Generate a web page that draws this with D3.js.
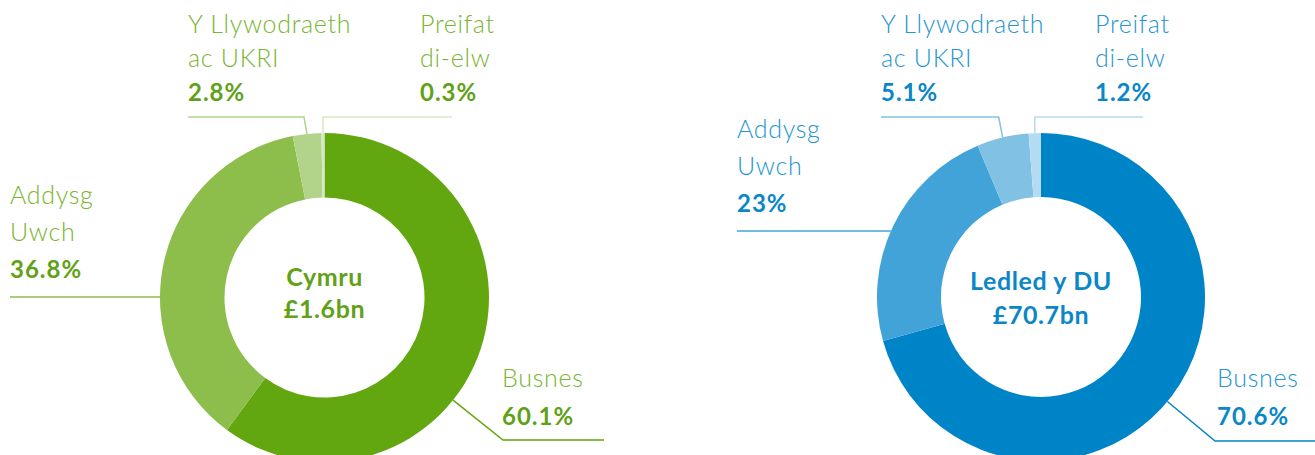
<!DOCTYPE html>
<html>
<head>
<meta charset="utf-8">
<script src="https://cdn.jsdelivr.net/npm/d3@7"></script>
<style>
    body { margin: 0; background: #fff; }
    svg { display: block; font-family: "Lato", "Open Sans", sans-serif; }
    .name { font-weight: 300; font-size: 25px; letter-spacing: 0.7px; }
    .pct { font-weight: 700; font-size: 24px; letter-spacing: 1px; }
    .centre { font-weight: 700; font-size: 25px; letter-spacing: 0.6px; }
</style>
</head>
<body>
<div class="chart"></div>
<script>

// slice names (each split over the lines it is printed on)
var categories = [["Busnes"], ["Addysg", "Uwch"], ["Y Llywodraeth", "ac UKRI"], ["Preifat", "di-elw"]];

// share of spend, %
var walesValues = [60.1, 36.8, 2.8, 0.3];
var ukValues = [70.6, 23, 5.1, 1.2];

var centreTitles = ["Cymru", "Ledled y DU"];
var centreTotals = ["£1.6bn", "£70.7bn"];

var svgWidth = 1315;
var svgHeight = 455;

var svg = d3.select(".chart")
    .append("svg")
    .attr("width", svgWidth)
    .attr("height", svgHeight);

// layout of each donut and its labels
var charts = [
    {
        values: walesValues, title: centreTitles[0], total: centreTotals[0],
        cx: 324.5, cy: 297.5, r: 164.5, ir: 100,
        colors: ["#62a70f", "#8dbd4b", "#b1d48a", "#d6e9c2"],
        nameColor: "#79b530", pctColor: "#60a118",
        titleY: [286, 318],
        labels: [
            {x: 502, y: 387, gap: 38, leader: "radial", angle: 128.6, lineY: 440, endX: 604},
            {x: 10, y: 204, gap: 37, leader: "flat", lineY: 297},
            {x: 188, y: 33, gap: 34, leader: "up", lineY: 117, endX: 188, elbow: -3},
            {x: 420, y: 33, gap: 34, leader: "up", lineY: 117, endX: 452, elbow: 0}
        ]
    },
    {
        values: ukValues, title: centreTitles[1], total: centreTotals[1],
        cx: 1041, cy: 297, r: 164, ir: 100,
        colors: ["#0084c8", "#42a3d8", "#80c1e4", "#b4dbf1"],
        nameColor: "#2595d2", pctColor: "#0a86c9",
        titleY: [290, 324],
        labels: [
            {x: 1217, y: 387, gap: 38, leader: "radial", angle: 129.6, lineY: 441, endX: 1315},
            {x: 737, y: 138, gap: 37, leader: "flat", lineY: 231},
            {x: 881, y: 33, gap: 34, leader: "up", lineY: 117, endX: 881, elbow: -4},
            {x: 1095, y: 33, gap: 34, leader: "up", lineY: 117, endX: 1143, elbow: 0}
        ]
    }
];

var pie = d3.pie().sort(null).value(d => d);

charts.forEach(function(c) {
    var g = svg.append("g")
        .attr("transform", `translate(${c.cx}, ${c.cy})`);

    var arc = d3.arc().innerRadius(c.ir).outerRadius(c.r);
    var arcs = pie(c.values);

    g.selectAll("path.slice")
        .data(arcs)
        .enter()
        .append("path")
        .attr("class", "slice")
        .attr("d", arc)
        .attr("fill", (d, i) => c.colors[i]);

    // point on the outer edge at a given angle (radians, clockwise from top)
    function edge(a, r) {
        return [r * Math.sin(a), -r * Math.cos(a)];
    }

    arcs.forEach(function(d, i) {
        var lab = c.labels[i];
        var pts;
        if (lab.leader === "up") {
            var mid = (d.startAngle + d.endAngle) / 2;
            var p = edge(mid, c.r);
            pts = [[lab.endX - c.cx, lab.lineY - c.cy], [p[0] + lab.elbow, lab.lineY - c.cy], p];
        } else if (lab.leader === "flat") {
            var dy = lab.lineY - c.cy;
            pts = [[lab.x - c.cx, dy], [-Math.sqrt(c.r * c.r - dy * dy), dy]];
        } else {
            var a = lab.angle * Math.PI / 180;
            var p0 = edge(a, c.r);
            var t = (lab.lineY - c.cy) / (-Math.cos(a));
            var p1 = edge(a, t);
            pts = [p0, p1, [lab.endX - c.cx, lab.lineY - c.cy]];
        }
        g.append("path")
            .attr("d", d3.line()(pts))
            .attr("fill", "none")
            .attr("stroke", c.colors[i])
            .attr("stroke-width", 1.5);

        var lines = categories[i];
        lines.forEach(function(t, j) {
            svg.append("text")
                .attr("class", "name")
                .attr("x", lab.x)
                .attr("y", lab.y + j * lab.gap)
                .attr("fill", c.nameColor)
                .text(t);
        });
        svg.append("text")
            .attr("class", "pct")
            .attr("x", lab.x)
            .attr("y", lab.y + lines.length * lab.gap)
            .attr("fill", c.pctColor)
            .text(c.values[i] + "%");
    });

    // centre text
    [c.title, c.total].forEach(function(t, j) {
        svg.append("text")
            .attr("class", "centre")
            .attr("x", c.cx)
            .attr("y", c.titleY[j])
            .attr("text-anchor", "middle")
            .attr("fill", c.pctColor)
            .text(t);
    });
});
</script>
</body>
</html>
